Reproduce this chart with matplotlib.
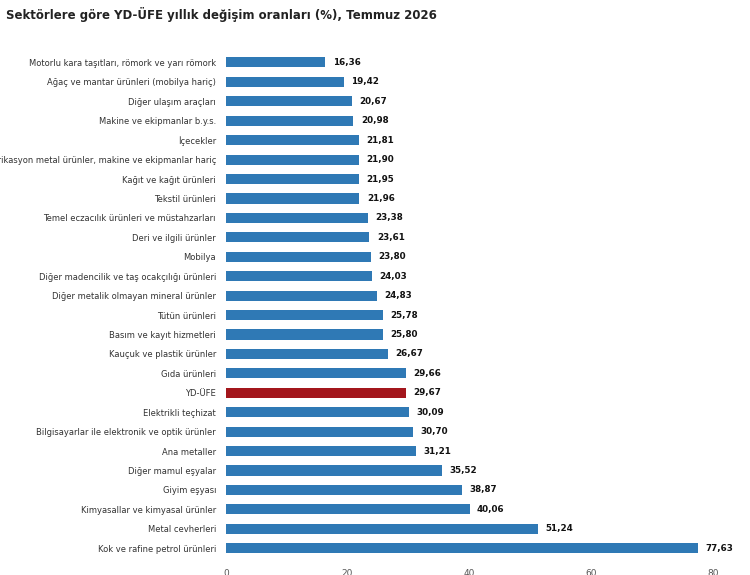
import matplotlib.pyplot as plt

categories = [
    "Motorlu kara taşıtları, römork ve yarı römork",
    "Ağaç ve mantar ürünleri (mobilya hariç)",
    "Diğer ulaşım araçları",
    "Makine ve ekipmanlar b.y.s.",
    "İçecekler",
    "Fabrikasyon metal ürünler, makine ve ekipmanlar hariç",
    "Kağıt ve kağıt ürünleri",
    "Tekstil ürünleri",
    "Temel eczacılık ürünleri ve müstahzarları",
    "Deri ve ilgili ürünler",
    "Mobilya",
    "Diğer madencilik ve taş ocakçılığı ürünleri",
    "Diğer metalik olmayan mineral ürünler",
    "Tütün ürünleri",
    "Basım ve kayıt hizmetleri",
    "Kauçuk ve plastik ürünler",
    "Gıda ürünleri",
    "YD-ÜFE",
    "Elektrikli teçhizat",
    "Bilgisayarlar ile elektronik ve optik ürünler",
    "Ana metaller",
    "Diğer mamul eşyalar",
    "Giyim eşyası",
    "Kimyasallar ve kimyasal ürünler",
    "Metal cevherleri",
    "Kok ve rafine petrol ürünleri",
]
values = [16.36, 19.42, 20.67, 20.98, 21.81, 21.90, 21.95, 21.96, 23.38, 23.61,
          23.80, 24.03, 24.83, 25.78, 25.80, 26.67, 29.66, 29.67, 30.09, 30.70,
          31.21, 35.52, 38.87, 40.06, 51.24, 77.63]
highlight = "YD-ÜFE"
xticks = [0, 20, 40, 60, 80]

fig = plt.figure(figsize=(7.5, 5.75), dpi=100)
ax = fig.add_axes([0.301, 0.028, 0.69, 0.882])

colors = ["#a3161c" if c == highlight else "#2f79b5" for c in categories]
y = list(range(len(categories)))
ax.barh(y, values, height=0.52, color=colors)
for yi, v in zip(y, values):
    ax.text(v + 1.2, yi, f"{v:.2f}".replace(".", ","), va="center", ha="left",
            fontsize=6.3, fontweight="bold", color="#111111")

ax.set_yticks(y)
ax.set_yticklabels(categories, fontsize=6.0, color="#333333")
ax.set_ylim(len(categories) - 0.45, -0.55)
ax.set_xlim(0, 85)
ax.set_xticks(xticks)
ax.set_xticklabels([str(t) for t in xticks], fontsize=6.5, color="#555555")
ax.tick_params(length=0, pad=7)
for s in ax.spines.values():
    s.set_visible(False)

fig.text(0.008, 0.975, "Sektörlere göre YD-ÜFE yıllık değişim oranları (%), Temmuz 2026",
         fontsize=8.5, fontweight="bold", color="#222222", va="center")

fig.savefig("out.png", dpi=100)
